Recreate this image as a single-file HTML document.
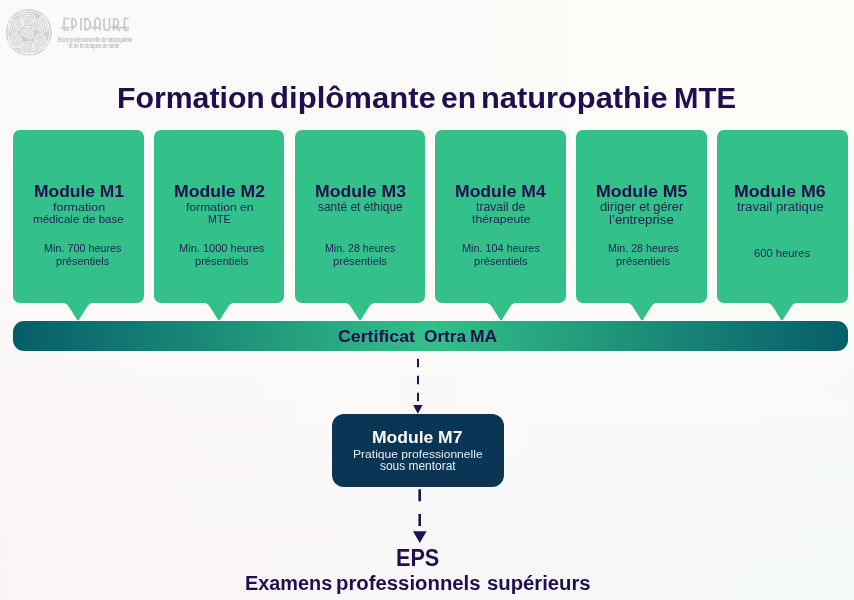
<!DOCTYPE html>
<html><head><meta charset="utf-8"><style>
html,body{margin:0;padding:0}
body{width:854px;height:600px;position:relative;overflow:hidden;font-family:"Liberation Sans",sans-serif;
background:linear-gradient(90deg,#faf4f6 0%,#f9f7f8 50%,#f4f8f9 100%)}
.bgtop{position:absolute;left:0;top:0;width:854px;height:600px;background:linear-gradient(90deg,#fcfafa 0%,#fcfbf9 50%,#fdfcf8 100%);-webkit-mask-image:linear-gradient(180deg,#000 0%,rgba(0,0,0,0.85) 40%,rgba(0,0,0,0.45) 70%,rgba(0,0,0,0) 100%);mask-image:linear-gradient(180deg,#000 0%,rgba(0,0,0,0.85) 40%,rgba(0,0,0,0.45) 70%,rgba(0,0,0,0) 100%)}
.t{position:absolute;white-space:pre;line-height:1;transform-origin:0 0}
.box{position:absolute;top:130px;width:130.7px;height:173px;border-radius:7px;background:#33c08a}
.ptr{position:absolute;top:302px;display:block}
.bar{position:absolute;left:13px;top:320.8px;width:835px;height:30.5px;border-radius:11px;background:linear-gradient(90deg,#055d69 0%,#33c08a 50%,#055d69 100%)}
.m7{position:absolute;left:331.6px;top:413.9px;width:172.5px;height:72.8px;border-radius:12px;background:#0b3555}
</style></head><body>
<div class="bgtop"></div>
<svg style="position:absolute;left:0;top:0" width="140" height="60" viewBox="0 0 140 60">
 <defs><clipPath id="cc"><ellipse cx="28.8" cy="32.4" rx="22.9" ry="23.4"/></clipPath></defs>
 <ellipse cx="28.8" cy="32.4" rx="22.9" ry="23.4" fill="#cfcfcf"/>
 <g clip-path="url(#cc)" fill="none" stroke="#f3f3f3" stroke-width="1.15"><path d="M28.30 33.30 L28.24 33.31 L28.19 33.33 L28.15 33.37 L28.13 33.41 L28.13 33.46 L28.13 33.51 L28.14 33.57 L28.17 33.64 L28.21 33.72 L28.26 33.81 L28.35 33.90 L28.46 33.97 L28.59 34.02 L28.73 34.03 L28.86 34.00 L28.98 33.92 L29.06 33.81 L29.12 33.69 L29.16 33.56 L29.20 33.43 L29.24 33.29 L29.29 33.14 L29.35 32.97 L29.40 32.76 L29.42 32.52 L29.39 32.27 L29.29 32.03 L29.13 31.83 L28.91 31.69 L28.66 31.62 L28.40 31.63 L28.16 31.69 L27.93 31.78 L27.72 31.87 L27.50 31.96 L27.26 32.03 L26.98 32.11 L26.68 32.23 L26.37 32.41 L26.08 32.65 L25.87 32.97 L25.76 33.34 L25.78 33.72 L25.91 34.08 L26.14 34.39 L26.41 34.64 L26.70 34.84 L26.98 35.02 L27.24 35.22 L27.51 35.44 L27.80 35.70 L28.16 35.96 L28.58 36.19 L29.06 36.33 L29.57 36.34 L30.06 36.19 L30.47 35.90 L30.77 35.49 L30.96 35.02 L31.05 34.54 L31.07 34.08 L31.08 33.65 L31.11 33.23 L31.18 32.79 L31.26 32.30 L31.32 31.75 L31.28 31.15 L31.11 30.54 L30.79 30.00 L30.31 29.58 L29.73 29.34 L29.10 29.28 L28.48 29.39 L27.91 29.61 L27.41 29.88 L26.95 30.15 L26.49 30.38 L25.99 30.58 L25.43 30.80 L24.82 31.09 L24.22 31.50 L23.71 32.05 L23.36 32.72 L23.23 33.47 L23.35 34.22 L23.69 34.90 L24.18 35.46 L24.76 35.90 L25.34 36.25 L25.89 36.56 L26.40 36.89 L26.90 37.28 L27.46 37.72 L28.12 38.15 L28.89 38.50 L29.75 38.69 L30.63 38.63 L31.46 38.30 L32.13 37.73 L32.60 36.98 L32.87 36.15 L32.97 35.32 L32.97 34.53 L32.96 33.80 L32.99 33.10 L33.08 32.37 L33.18 31.56 L33.23 30.66 L33.12 29.69 L32.80 28.74 L32.22 27.91 L31.41 27.30 L30.46 26.98 L29.45 26.96 L28.48 27.18 L27.60 27.57 L26.83 28.03 L26.13 28.45 L25.42 28.82 L24.66 29.16 L23.80 29.52 L22.90 29.99 L22.02 30.65 L21.30 31.51 L20.83 32.55 L20.71 33.68 L20.95 34.79 L21.52 35.78 L22.29 36.58"/><path d="M27.40 18.60 L27.45 18.61 L27.49 18.63 L27.53 18.66 L27.55 18.70 L27.56 18.75 L27.57 18.82 L27.57 18.90 L27.55 18.99 L27.51 19.09 L27.44 19.18 L27.35 19.26 L27.24 19.30 L27.12 19.31 L27.00 19.28 L26.90 19.21 L26.82 19.13 L26.75 19.04 L26.67 18.94 L26.58 18.84 L26.48 18.73 L26.37 18.59 L26.26 18.42 L26.17 18.21 L26.14 17.98 L26.16 17.74 L26.26 17.52 L26.43 17.35 L26.63 17.24 L26.86 17.18 L27.09 17.16 L27.31 17.17 L27.53 17.17 L27.75 17.16 L28.00 17.14 L28.28 17.12 L28.60 17.13 L28.94 17.21 L29.26 17.37 L29.53 17.61 L29.71 17.93 L29.78 18.28 L29.74 18.64 L29.62 18.97 L29.44 19.27 L29.26 19.54 L29.08 19.79 L28.92 20.06 L28.76 20.37 L28.57 20.72 L28.32 21.08 L27.98 21.41 L27.57 21.66 L27.09 21.78 L26.61 21.75 L26.16 21.57 L25.78 21.26 L25.49 20.88 L25.28 20.48 L25.12 20.08 L24.95 19.71 L24.76 19.34 L24.53 18.96 L24.28 18.52 L24.06 18.01 L23.93 17.43 L23.94 16.82 L24.12 16.24 L24.48 15.74 L24.98 15.38 L25.55 15.18 L26.15 15.12 L26.72 15.16 L27.25 15.24 L27.75 15.31 L28.25 15.34 L28.80 15.34 L29.41 15.35 L30.08 15.44 L30.76 15.67 L31.38 16.07 L31.87 16.62 L32.15 17.30 L32.20 18.04 L32.05 18.76 L31.74 19.41 L31.34 19.97 L30.94 20.46 L30.57 20.93 L30.24 21.43 L29.91 21.99 L29.52 22.60 L29.02 23.22 L28.38 23.77 L27.61 24.15 L26.75 24.29 L25.90 24.16 L25.14 23.77 L24.51 23.18 L24.05 22.48 L23.72 21.75 L23.47 21.05 L23.21 20.41 L22.91 19.78 L22.55 19.13 L22.17 18.38 L21.85 17.52 L21.69 16.57 L21.77 15.58 L22.13 14.66 L22.77 13.91 L23.61 13.38 L24.56 13.12 L25.52 13.08 L26.42 13.18 L27.25 13.33 L28.03 13.45 L28.81 13.52 L29.67 13.54 L30.62 13.60 L31.64 13.78 L32.66 14.18 L33.56 14.82 L34.24 15.71 L34.60 16.77 L34.61 17.88 L34.32 18.95 L33.81 19.90 L33.19 20.72 L32.58 21.43 L32.02 22.12 L31.52 22.84 L31.01 23.66 L30.42 24.54 L29.66 25.42 L28.70 26.17 L27.56 26.66 L26.33 26.80 L25.12 26.54 L24.05 25.92 L23.19 25.03 L22.57 24.00 L22.14 22.95 L21.80 21.97 L21.45 21.05 L21.04 20.17 L20.54 19.23 L20.03 18.17 L19.62 16.95 L19.45 15.62 L19.62 14.26 L20.19 13.02 L21.12 12.02 L22.32 11.36 L23.64 11.05 L24.96 11.04 L26.19 11.21"/><path d="M14.60 25.20 L14.55 25.21 L14.51 25.23 L14.48 25.26 L14.44 25.31 L14.42 25.37 L14.40 25.45 L14.40 25.55 L14.43 25.64 L14.48 25.73 L14.56 25.80 L14.65 25.83 L14.75 25.84 L14.85 25.82 L14.94 25.78 L15.03 25.73 L15.13 25.68 L15.24 25.63 L15.37 25.57 L15.52 25.48 L15.67 25.35 L15.80 25.19 L15.89 24.99 L15.92 24.78 L15.88 24.57 L15.78 24.38 L15.63 24.23 L15.44 24.12 L15.25 24.04 L15.07 23.97 L14.88 23.89 L14.69 23.80 L14.47 23.68 L14.21 23.57 L13.90 23.49 L13.57 23.47 L13.24 23.54 L12.94 23.70 L12.71 23.95 L12.57 24.26 L12.52 24.59 L12.54 24.92 L12.60 25.23 L12.68 25.52 L12.73 25.81 L12.77 26.12 L12.81 26.47 L12.88 26.86 L13.01 27.27 L13.24 27.67 L13.57 28.00 L13.98 28.22 L14.43 28.29 L14.89 28.22 L15.31 28.03 L15.67 27.77 L15.98 27.47 L16.26 27.18 L16.54 26.92 L16.85 26.66 L17.21 26.38 L17.59 26.04 L17.95 25.62 L18.23 25.11 L18.36 24.53 L18.32 23.95 L18.09 23.40 L17.71 22.96 L17.22 22.63 L16.70 22.42 L16.18 22.28 L15.69 22.17 L15.22 22.05 L14.75 21.88 L14.23 21.68 L13.63 21.49 L12.97 21.38 L12.26 21.42 L11.58 21.65 L11.00 22.07 L10.59 22.65 L10.37 23.33 L10.34 24.04 L10.45 24.71 L10.63 25.33 L10.82 25.90 L10.97 26.46 L11.08 27.05 L11.20 27.70 L11.37 28.42 L11.67 29.16 L12.14 29.85 L12.78 30.39 L13.56 30.72 L14.39 30.78 L15.21 30.58 L15.94 30.18 L16.55 29.66 L17.07 29.11 L17.53 28.58 L17.99 28.10 L18.52 27.64 L19.10 27.15 L19.72 26.55 L20.28 25.82 L20.68 24.94 L20.83 23.99 L20.69 23.03 L20.24 22.17 L19.57 21.49 L18.74 21.00 L17.87 20.70 L17.03 20.52 L16.25 20.37 L15.51 20.19 L14.75 19.94 L13.92 19.65 L12.99 19.39 L11.95 19.28 L10.87 19.39 L9.85 19.80 L9.01 20.50 L8.44 21.43 L8.17 22.48 L8.18 23.56 L8.39 24.58 L8.69 25.50 L8.99 26.34 L9.23 27.16 L9.41 28.04 L9.60 29.00 L9.89 30.06 L10.37 31.12 L11.10 32.09 L12.07 32.83 L13.22 33.23 L14.44 33.24 L15.60 32.90 L16.63 32.27 L17.49 31.50 L18.20 30.69 L18.83 29.94 L19.49 29.25 L20.23 28.58 L21.05 27.86 L21.89 26.99 L22.64 25.93 L23.14 24.70 L23.29 23.36 L23.02 22.04 L22.34 20.88 L21.35 19.97 L20.18 19.35 L18.97 18.97 L17.81 18.75 L16.74 18.56 L15.72 18.31"/><path d="M41.60 24.80 L41.65 24.81 L41.69 24.83 L41.74 24.87 L41.78 24.93 L41.81 25.00 L41.82 25.08 L41.81 25.17 L41.77 25.24 L41.71 25.29 L41.64 25.33 L41.56 25.34 L41.47 25.34 L41.38 25.34 L41.28 25.34 L41.17 25.34 L41.02 25.33 L40.86 25.29 L40.69 25.23 L40.54 25.12 L40.41 24.97 L40.33 24.79 L40.32 24.60 L40.37 24.41 L40.46 24.24 L40.59 24.09 L40.72 23.97 L40.85 23.84 L40.99 23.71 L41.12 23.55 L41.29 23.37 L41.50 23.18 L41.76 23.02 L42.05 22.92 L42.37 22.91 L42.68 22.99 L42.94 23.16 L43.14 23.41 L43.27 23.70 L43.34 23.99 L43.38 24.28 L43.42 24.56 L43.48 24.83 L43.56 25.13 L43.65 25.47 L43.71 25.86 L43.70 26.29 L43.58 26.71 L43.36 27.09 L43.02 27.38 L42.62 27.55 L42.18 27.60 L41.75 27.53 L41.35 27.39 L40.99 27.23 L40.65 27.08 L40.30 26.95 L39.91 26.83 L39.47 26.69 L39.00 26.49 L38.54 26.18 L38.15 25.77 L37.90 25.26 L37.81 24.70 L37.91 24.15 L38.16 23.64 L38.52 23.22 L38.94 22.88 L39.35 22.60 L39.74 22.33 L40.11 22.04 L40.48 21.70 L40.91 21.32 L41.42 20.96 L42.03 20.67 L42.71 20.53 L43.40 20.59 L44.04 20.86 L44.56 21.32 L44.92 21.91 L45.13 22.56 L45.22 23.20 L45.26 23.80 L45.29 24.37 L45.37 24.93 L45.49 25.52 L45.61 26.19 L45.67 26.94 L45.59 27.73 L45.31 28.50 L44.83 29.16 L44.16 29.63 L43.38 29.88 L42.56 29.88 L41.78 29.70 L41.08 29.40 L40.45 29.08 L39.86 28.78 L39.25 28.52 L38.58 28.29 L37.84 28.02 L37.06 27.63 L36.33 27.08 L35.73 26.35 L35.37 25.48 L35.30 24.53 L35.53 23.62 L36.01 22.81 L36.65 22.15 L37.35 21.62 L38.04 21.19 L38.68 20.78 L39.28 20.33 L39.90 19.80 L40.59 19.23 L41.42 18.70 L42.39 18.30 L43.45 18.15 L44.51 18.31 L45.46 18.79 L46.22 19.55 L46.73 20.49 L47.00 21.49 L47.10 22.48 L47.12 23.39 L47.16 24.24 L47.27 25.09 L47.43 25.98 L47.58 26.99 L47.62 28.09 L47.45 29.25 L46.99 30.36 L46.23 31.28 L45.22 31.91 L44.06 32.20 L42.86 32.15 L41.74 31.84 L40.74 31.38 L39.85 30.89 L39.01 30.45 L38.14 30.08 L37.19 29.73 L36.14 29.31 L35.06 28.73 L34.05 27.91 L33.27 26.85 L32.83 25.60 L32.80 24.28 L33.19 23.02 L33.91 21.92 L34.84 21.03 L35.83 20.33 L36.79 19.76 L37.67 19.20 L38.50 18.58 L39.36 17.87 L40.34 17.10 L41.50 16.40 L42.83 15.91 L44.28 15.77 L45.70 16.05 L46.95 16.77 L47.92 17.85 L48.55 19.14"/><path d="M14.40 41.40 L14.35 41.41 L14.29 41.43 L14.24 41.48 L14.20 41.54 L14.18 41.60 L14.18 41.67 L14.21 41.73 L14.25 41.78 L14.31 41.82 L14.37 41.86 L14.44 41.89 L14.52 41.93 L14.63 41.97 L14.75 42.01 L14.91 42.03 L15.07 42.02 L15.24 41.96 L15.38 41.86 L15.49 41.73 L15.54 41.56 L15.55 41.39 L15.51 41.22 L15.45 41.06 L15.38 40.92 L15.32 40.76 L15.25 40.59 L15.18 40.39 L15.09 40.17 L14.95 39.94 L14.76 39.73 L14.51 39.56 L14.23 39.47 L13.94 39.48 L13.66 39.58 L13.42 39.76 L13.23 39.98 L13.08 40.21 L12.95 40.45 L12.82 40.67 L12.66 40.89 L12.47 41.14 L12.28 41.44 L12.11 41.79 L12.01 42.18 L12.01 42.60 L12.13 43.01 L12.38 43.35 L12.72 43.60 L13.11 43.74 L13.52 43.79 L13.91 43.79 L14.27 43.76 L14.63 43.76 L15.00 43.77 L15.41 43.81 L15.87 43.82 L16.38 43.77 L16.89 43.60 L17.35 43.31 L17.70 42.89 L17.90 42.39 L17.94 41.84 L17.82 41.31 L17.60 40.83 L17.34 40.41 L17.07 40.03 L16.83 39.65 L16.61 39.24 L16.38 38.78 L16.09 38.28 L15.70 37.78 L15.20 37.34 L14.60 37.05 L13.93 36.95 L13.27 37.07 L12.68 37.39 L12.20 37.85 L11.84 38.39 L11.57 38.93 L11.34 39.45 L11.09 39.94 L10.80 40.42 L10.47 40.94 L10.13 41.54 L9.86 42.24 L9.73 43.02 L9.80 43.81 L10.12 44.55 L10.65 45.14 L11.33 45.55 L12.09 45.75 L12.86 45.79 L13.58 45.74 L14.24 45.66 L14.88 45.61 L15.54 45.62 L16.26 45.65 L17.07 45.63 L17.93 45.48 L18.78 45.15 L19.52 44.59 L20.05 43.84 L20.32 42.96 L20.31 42.04 L20.06 41.16 L19.65 40.38 L19.17 39.70 L18.71 39.09 L18.30 38.49 L17.92 37.83 L17.53 37.10 L17.04 36.32 L16.39 35.56 L15.57 34.92 L14.60 34.53 L13.55 34.45 L12.54 34.70 L11.65 35.25 L10.94 36.01 L10.41 36.86 L10.02 37.72 L9.69 38.52 L9.34 39.26 L8.92 40.00 L8.43 40.80 L7.95 41.73 L7.58 42.78 L7.45 43.94 L7.63 45.10 L8.15 46.15 L8.98 46.98 L10.03 47.52 L11.16 47.77 L12.28 47.79 L13.32 47.68 L14.27 47.54 L15.19 47.47 L16.14 47.46 L17.19 47.48 L18.34 47.42 L19.56 47.17 L20.74 46.64 L21.74 45.81 L22.44 44.71 L22.75 43.45 L22.67 42.16 L22.26 40.94 L21.65 39.86 L20.97 38.94 L20.31 38.10 L19.73 37.27 L19.20 36.37 L18.64 35.36 L17.94 34.30 L17.02 33.28 L15.86 32.47"/><path d="M41.00 43.00 L41.06 43.01 L41.12 43.04 L41.16 43.08 L41.19 43.13 L41.20 43.18 L41.19 43.23 L41.16 43.28 L41.13 43.34 L41.09 43.39 L41.03 43.46 L40.96 43.53 L40.86 43.60 L40.73 43.67 L40.59 43.70 L40.43 43.70 L40.29 43.65 L40.17 43.56 L40.08 43.44 L40.03 43.29 L40.02 43.14 L40.02 42.99 L40.02 42.84 L40.02 42.69 L40.01 42.51 L40.00 42.31 L40.02 42.07 L40.08 41.82 L40.20 41.58 L40.38 41.37 L40.62 41.23 L40.89 41.17 L41.16 41.20 L41.41 41.30 L41.64 41.44 L41.84 41.60 L42.03 41.75 L42.23 41.89 L42.46 42.04 L42.72 42.20 L43.00 42.42 L43.26 42.70 L43.45 43.04 L43.55 43.43 L43.52 43.83 L43.37 44.19 L43.11 44.50 L42.79 44.73 L42.44 44.88 L42.10 45.00 L41.78 45.11 L41.46 45.24 L41.13 45.40 L40.75 45.57 L40.31 45.73 L39.82 45.82 L39.30 45.80 L38.80 45.63 L38.38 45.32 L38.08 44.89 L37.93 44.39 L37.90 43.87 L37.96 43.38 L38.07 42.93 L38.17 42.50 L38.24 42.07 L38.29 41.60 L38.34 41.08 L38.46 40.51 L38.69 39.93 L39.05 39.39 L39.55 38.98 L40.16 38.75 L40.80 38.71 L41.43 38.87 L41.99 39.18 L42.47 39.56 L42.88 39.96 L43.27 40.33 L43.67 40.68 L44.13 41.01 L44.63 41.39 L45.15 41.87 L45.61 42.46 L45.92 43.17 L46.03 43.93 L45.89 44.70 L45.52 45.37 L44.97 45.92 L44.31 46.30 L43.63 46.55 L42.98 46.73 L42.36 46.89 L41.78 47.10 L41.16 47.36 L40.47 47.64 L39.69 47.87 L38.82 47.97 L37.93 47.87 L37.10 47.51 L36.43 46.91 L35.98 46.13 L35.77 45.26 L35.78 44.38 L35.93 43.55 L36.14 42.80 L36.34 42.09 L36.48 41.39 L36.58 40.63 L36.70 39.79 L36.93 38.87 L37.34 37.96 L37.97 37.15 L38.80 36.56 L39.78 36.25 L40.81 36.27 L41.78 36.58 L42.64 37.11 L43.36 37.74 L43.97 38.37 L44.55 38.96 L45.16 39.50 L45.84 40.03 L46.59 40.64 L47.35 41.38 L47.99 42.30 L48.41 43.37 L48.50 44.52 L48.23 45.64 L47.62 46.62 L46.75 47.38 L45.76 47.90 L44.74 48.24 L43.78 48.47 L42.89 48.69 L42.03 48.98 L41.13 49.34 L40.12 49.72 L38.98 50.02 L37.74 50.12 L36.48 49.91 L35.33 49.34 L34.43 48.44 L33.85 47.30 L33.61 46.05 L33.68 44.80 L33.93 43.65 L34.24 42.60 L34.52 41.63 L34.72 40.65 L34.88 39.59 L35.08 38.41 L35.43 37.16 L36.04 35.93 L36.95 34.86 L38.13 34.10 L39.49 33.76 L40.89 33.85 L42.20 34.34 L43.34 35.09 L44.29 35.97 L45.11 36.84 L45.87 37.64 L46.69 38.37"/><path d="M27.60 47.60 L27.54 47.61 L27.49 47.63 L27.46 47.67 L27.44 47.71 L27.43 47.76 L27.43 47.81 L27.44 47.87 L27.46 47.95 L27.50 48.04 L27.56 48.13 L27.65 48.22 L27.76 48.29 L27.89 48.33 L28.02 48.32 L28.15 48.28 L28.25 48.20 L28.33 48.09 L28.39 47.97 L28.43 47.85 L28.48 47.73 L28.55 47.59 L28.62 47.44 L28.70 47.25 L28.75 47.03 L28.76 46.79 L28.72 46.54 L28.60 46.31 L28.42 46.14 L28.20 46.03 L27.95 45.99 L27.70 46.01 L27.47 46.06 L27.24 46.13 L27.03 46.19 L26.79 46.24 L26.52 46.29 L26.22 46.36 L25.90 46.48 L25.59 46.67 L25.32 46.94 L25.15 47.27 L25.09 47.64 L25.14 48.01 L25.31 48.35 L25.54 48.64 L25.80 48.88 L26.05 49.09 L26.30 49.30 L26.53 49.54 L26.78 49.81 L27.08 50.11 L27.45 50.39 L27.89 50.61 L28.38 50.71 L28.88 50.66 L29.34 50.46 L29.71 50.13 L29.98 49.71 L30.14 49.24 L30.22 48.79 L30.28 48.36 L30.35 47.94 L30.45 47.53 L30.58 47.07 L30.70 46.55 L30.76 45.97 L30.70 45.36 L30.49 44.77 L30.11 44.27 L29.59 43.92 L28.99 43.74 L28.36 43.74 L27.77 43.87 L27.23 44.08 L26.74 44.29 L26.26 44.48 L25.76 44.63 L25.21 44.78 L24.59 44.98 L23.95 45.28 L23.36 45.73 L22.89 46.32 L22.62 47.02 L22.59 47.77 L22.79 48.49 L23.17 49.13 L23.67 49.66 L24.21 50.09 L24.73 50.46 L25.21 50.83 L25.67 51.25 L26.16 51.72 L26.72 52.22 L27.41 52.68 L28.21 53.01 L29.09 53.12 L29.95 52.97 L30.72 52.55 L31.32 51.91 L31.73 51.14 L31.96 50.32 L32.06 49.53 L32.13 48.79 L32.22 48.10 L32.36 47.40 L32.55 46.64 L32.71 45.78 L32.76 44.83 L32.61 43.85 L32.21 42.93 L31.54 42.18 L30.68 41.67 L29.69 41.46 L28.70 41.52 L27.77 41.77 L26.93 42.12 L26.18 42.48 L25.45 42.79 L24.68 43.05 L23.82 43.30 L22.89 43.64 L21.94 44.13 L21.08 44.85 L20.43 45.77 L20.09 46.85 L20.11 47.98 L20.47 49.05 L21.10 49.98 L21.87 50.73 L22.69 51.34 L23.46 51.86 L24.17 52.40 L24.86 53.00 L25.58 53.68 L26.43 54.39 L27.45 55.01 L28.62 55.43 L29.88 55.52 L31.10 55.23 L32.16 54.57 L32.98 53.61 L33.51 52.49 L33.79 51.32 L33.90 50.20 L33.98 49.17 L34.09 48.19 L34.29 47.21 L34.53 46.13"/><ellipse cx="28.8" cy="32.4" rx="20.9" ry="21.4"/></g>
 <g fill="none" stroke="#c7c7c9" stroke-width="1.6">
  <path d="M69.2 18.5 H64.1 V30 H69.2 M60.9 27.6 H69.5"/>
  <path d="M72 30.6 V18.5 Q76.2 18.8 76.2 23 Q76.2 27.2 72 27.4"/>
  <path d="M81 18 V30.6"/>
  <path d="M84.9 30 V18.5 Q90.3 19 90.3 24.3 Q90.3 29.6 84.9 30"/>
  <path d="M95 30.6 V22.5 Q95 18.3 97.6 18.3 Q100.1 18.3 100.1 22.5 V30.6 M91 27.6 H100.1"/>
  <path d="M104 18 V26.5 Q104 30.3 106.8 30.3 Q109.5 30.3 109.5 26.5 V18"/>
  <path d="M113.7 30.6 V18.5 Q118.6 18.8 118.6 22.8 Q118.6 26.6 113.7 26.8 L120 30.6 M111.3 27.6 H122"/>
  <path d="M128.9 18.5 H124.4 V30 H128.9 M121 27.6 H128.9"/>
 </g>
</svg>
<div class="bar"></div>
<div class="box" style="left:13.00px"></div><svg class="ptr" style="left:58.35px" width="40" height="21" viewBox="0 -1 40 21"><path d="M0 -1 H40 V0 H35.5 C31.8 0 30.45 1.8 29.18 3.8 L21.08 16.6 Q20 18.6 18.92 16.6 L10.82 3.8 C9.55 1.8 8.2 0 4.5 0 H0 Z" fill="#33c08a"/></svg><div class="box" style="left:153.80px"></div><svg class="ptr" style="left:199.15px" width="40" height="21" viewBox="0 -1 40 21"><path d="M0 -1 H40 V0 H35.5 C31.8 0 30.45 1.8 29.18 3.8 L21.08 16.6 Q20 18.6 18.92 16.6 L10.82 3.8 C9.55 1.8 8.2 0 4.5 0 H0 Z" fill="#33c08a"/></svg><div class="box" style="left:294.60px"></div><svg class="ptr" style="left:339.95px" width="40" height="21" viewBox="0 -1 40 21"><path d="M0 -1 H40 V0 H35.5 C31.8 0 30.45 1.8 29.18 3.8 L21.08 16.6 Q20 18.6 18.92 16.6 L10.82 3.8 C9.55 1.8 8.2 0 4.5 0 H0 Z" fill="#33c08a"/></svg><div class="box" style="left:435.40px"></div><svg class="ptr" style="left:480.75px" width="40" height="21" viewBox="0 -1 40 21"><path d="M0 -1 H40 V0 H35.5 C31.8 0 30.45 1.8 29.18 3.8 L21.08 16.6 Q20 18.6 18.92 16.6 L10.82 3.8 C9.55 1.8 8.2 0 4.5 0 H0 Z" fill="#33c08a"/></svg><div class="box" style="left:576.20px"></div><svg class="ptr" style="left:621.55px" width="40" height="21" viewBox="0 -1 40 21"><path d="M0 -1 H40 V0 H35.5 C31.8 0 30.45 1.8 29.18 3.8 L21.08 16.6 Q20 18.6 18.92 16.6 L10.82 3.8 C9.55 1.8 8.2 0 4.5 0 H0 Z" fill="#33c08a"/></svg><div class="box" style="left:717.00px"></div><svg class="ptr" style="left:762.35px" width="40" height="21" viewBox="0 -1 40 21"><path d="M0 -1 H40 V0 H35.5 C31.8 0 30.45 1.8 29.18 3.8 L21.08 16.6 Q20 18.6 18.92 16.6 L10.82 3.8 C9.55 1.8 8.2 0 4.5 0 H0 Z" fill="#33c08a"/></svg>
<div class="m7"></div>
<svg style="position:absolute;left:0;top:350px" width="854" height="200" viewBox="0 350 854 200">
 <line x1="418" y1="358.75" x2="418" y2="402" stroke="#1e1250" stroke-width="2.0" stroke-dasharray="8.5 8.5"/>
 <path d="M413.1 405.1 H422.6 L417.85 413.8 Z" fill="#1e1250"/>
 <line x1="419.7" y1="489.3" x2="419.7" y2="526" stroke="#1e1250" stroke-width="2.6" stroke-dasharray="12 12.7"/>
 <path d="M413 531.3 H426.6 L419.8 542.9 Z" fill="#1e1250"/>
</svg>
<div class="t" style="left:117.43px;top:83.01px;font-size:29.763px;font-weight:bold;color:#200e4e;transform:scaleX(1.0165)">Formation</div><div class="t" style="left:269.96px;top:83.01px;font-size:29.763px;font-weight:bold;color:#200e4e;transform:scaleX(1.0452)">diplômante</div><div class="t" style="left:440.55px;top:83.01px;font-size:29.763px;font-weight:bold;color:#200e4e;transform:scaleX(1.0100)">en</div><div class="t" style="left:480.80px;top:83.01px;font-size:29.763px;font-weight:bold;color:#200e4e;transform:scaleX(1.0357)">naturopathie</div><div class="t" style="left:673.89px;top:83.01px;font-size:29.763px;font-weight:bold;color:#200e4e;transform:scaleX(0.9868)">MTE</div><div class="t" style="left:33.57px;top:183.01px;font-size:16.978px;font-weight:bold;color:#200e4e;transform:scaleX(1.0259)">Module M1</div><div class="t" style="left:52.68px;top:202.00px;font-size:11.441px;font-weight:normal;color:#1f1f58;transform:scaleX(1.0922)">formation</div><div class="t" style="left:33.35px;top:214.01px;font-size:11.586px;font-weight:normal;color:#1f1f58;transform:scaleX(1.0001)">médicale de base</div><div class="t" style="left:43.93px;top:244.01px;font-size:10.390px;font-weight:normal;color:#1f1f58;transform:scaleX(1.0408)">Min. 700 heures</div><div class="t" style="left:56.24px;top:257.00px;font-size:10.331px;font-weight:normal;color:#1f1f58;transform:scaleX(1.0678)">présentiels</div><div class="t" style="left:173.86px;top:183.01px;font-size:16.978px;font-weight:bold;color:#200e4e;transform:scaleX(1.0372)">Module M2</div><div class="t" style="left:185.68px;top:202.00px;font-size:11.441px;font-weight:normal;color:#1f1f58;transform:scaleX(1.0624)">formation en</div><div class="t" style="left:207.84px;top:214.01px;font-size:11.565px;font-weight:normal;color:#1f1f58;transform:scaleX(0.9260)">MTE</div><div class="t" style="left:179.12px;top:244.01px;font-size:10.390px;font-weight:normal;color:#1f1f58;transform:scaleX(1.0646)">Min. 1000 heures</div><div class="t" style="left:195.14px;top:257.00px;font-size:10.331px;font-weight:normal;color:#1f1f58;transform:scaleX(1.0719)">présentiels</div><div class="t" style="left:314.66px;top:183.01px;font-size:16.978px;font-weight:bold;color:#200e4e;transform:scaleX(1.0372)">Module M3</div><div class="t" style="left:317.70px;top:200.01px;font-size:13.246px;font-weight:normal;color:#1f1f58;transform:scaleX(0.8994)">santé et éthique</div><div class="t" style="left:324.95px;top:244.01px;font-size:10.390px;font-weight:normal;color:#1f1f58;transform:scaleX(1.0247)">Min. 28 heures</div><div class="t" style="left:333.13px;top:257.00px;font-size:10.331px;font-weight:normal;color:#1f1f58;transform:scaleX(1.0801)">présentiels</div><div class="t" style="left:455.06px;top:183.01px;font-size:16.978px;font-weight:bold;color:#200e4e;transform:scaleX(1.0347)">Module M4</div><div class="t" style="left:476.12px;top:202.01px;font-size:11.876px;font-weight:normal;color:#1f1f58;transform:scaleX(1.0248)">travail de</div><div class="t" style="left:472.02px;top:213.02px;font-size:11.731px;font-weight:normal;color:#1f1f58;transform:scaleX(1.0426)">thérapeute</div><div class="t" style="left:461.63px;top:244.01px;font-size:10.390px;font-weight:normal;color:#1f1f58;transform:scaleX(1.0462)">Min. 104 heures</div><div class="t" style="left:473.84px;top:257.00px;font-size:10.331px;font-weight:normal;color:#1f1f58;transform:scaleX(1.0719)">présentiels</div><div class="t" style="left:595.85px;top:183.01px;font-size:16.978px;font-weight:bold;color:#200e4e;transform:scaleX(1.0421)">Module M5</div><div class="t" style="left:599.79px;top:201.00px;font-size:12.021px;font-weight:normal;color:#1f1f58;transform:scaleX(1.0654)">diriger et gérer</div><div class="t" style="left:609.14px;top:214.01px;font-size:12.021px;font-weight:normal;color:#1f1f58;transform:scaleX(1.1023)">l’entreprise</div><div class="t" style="left:607.84px;top:244.01px;font-size:10.390px;font-weight:normal;color:#1f1f58;transform:scaleX(1.0306)">Min. 28 heures</div><div class="t" style="left:616.33px;top:257.00px;font-size:10.331px;font-weight:normal;color:#1f1f58;transform:scaleX(1.0821)">présentiels</div><div class="t" style="left:733.75px;top:183.01px;font-size:16.978px;font-weight:bold;color:#200e4e;transform:scaleX(1.0453)">Module M6</div><div class="t" style="left:737.10px;top:202.01px;font-size:11.876px;font-weight:normal;color:#1f1f58;transform:scaleX(1.1136)">travail pratique</div><div class="t" style="left:754.14px;top:248.00px;font-size:10.774px;font-weight:normal;color:#1f1f58;transform:scaleX(1.0435)">600 heures</div><div class="t" style="left:57.53px;top:36.01px;font-size:7.724px;font-weight:bold;color:#bcbcbe;transform:scaleX(0.5317)">Ecole professionnelle de naturopathie</div><div class="t" style="left:69.36px;top:43.00px;font-size:6.759px;font-weight:bold;color:#bcbcbe;transform:scaleX(0.6096)">et de techniques de santé</div><div class="t" style="left:337.69px;top:329.01px;font-size:16.714px;font-weight:bold;color:#200e4e;transform:scaleX(1.0622)">Certificat</div><div class="t" style="left:423.91px;top:329.01px;font-size:16.714px;font-weight:bold;color:#200e4e;transform:scaleX(1.0310)">Ortra</div><div class="t" style="left:470.36px;top:329.01px;font-size:16.714px;font-weight:bold;color:#200e4e;transform:scaleX(1.0474)">MA</div><div class="t" style="left:372.36px;top:429.00px;font-size:16.115px;font-weight:bold;color:#ffffff;transform:scaleX(1.0865)">Module M7</div><div class="t" style="left:352.83px;top:449.01px;font-size:11.034px;font-weight:normal;color:#e6ebf0;transform:scaleX(1.0969)">Pratique professionnelle</div><div class="t" style="left:379.80px;top:460.01px;font-size:12.000px;font-weight:normal;color:#e6ebf0;transform:scaleX(0.9947)">sous mentorat</div><div class="t" style="left:396.49px;top:547.01px;font-size:23.043px;font-weight:bold;color:#200e4e;transform:scaleX(0.9392)">EPS</div><div class="t" style="left:245.11px;top:573.00px;font-size:20.580px;font-weight:bold;color:#200e4e;transform:scaleX(0.9649)">Examens</div><div class="t" style="left:336.48px;top:573.00px;font-size:20.580px;font-weight:bold;color:#200e4e;transform:scaleX(0.9875)">professionnels</div><div class="t" style="left:487.09px;top:573.00px;font-size:20.580px;font-weight:bold;color:#200e4e;transform:scaleX(0.9849)">supérieurs</div>
</body></html>
